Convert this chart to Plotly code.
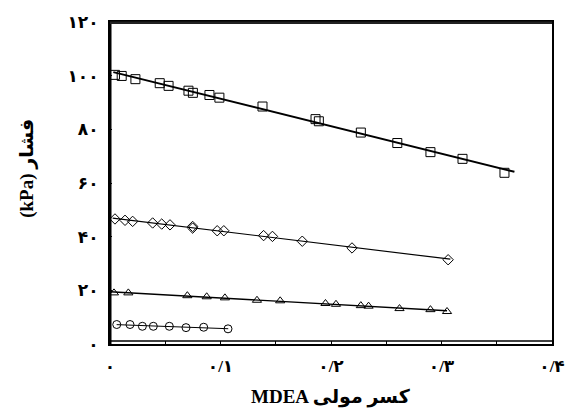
import numpy as np
import plotly.graph_objects as go

# Vapour pressure vs. MDEA mole fraction, four temperatures
sq_x = [0.0045, 0.0106, 0.023, 0.045, 0.053, 0.071, 0.075, 0.090, 0.099, 0.138,
        0.186, 0.189, 0.227, 0.260, 0.290, 0.319, 0.357]
sq_y = [100.3, 99.9, 98.7, 97.2, 96.2, 94.4, 93.6, 92.8, 91.8, 88.5,
        83.8, 83.0, 78.8, 74.9, 71.5, 69.0, 63.8]

dm_x = [0.0045, 0.0136, 0.0205, 0.0386, 0.0468, 0.0543, 0.0748, 0.0748, 0.097,
        0.103, 0.139, 0.147, 0.174, 0.219, 0.306]
dm_y = [46.6, 46.1, 45.7, 45.1, 44.7, 44.4, 43.8, 43.2, 42.2,
        42.2, 40.4, 40.1, 38.3, 35.8, 31.4]

tr_x = [0.0036, 0.0166, 0.070, 0.0875, 0.104, 0.133, 0.154, 0.195, 0.2045,
        0.227, 0.234, 0.262, 0.290, 0.305]
tr_y = [19.05, 19.05, 18.0, 17.6, 17.2, 16.3, 16.1, 15.1, 14.8,
        14.3, 14.1, 13.2, 12.8, 12.1]

ci_x = [0.0061, 0.0181, 0.0293, 0.0392, 0.0537, 0.0688, 0.0848, 0.1068]
ci_y = [7.26, 7.26, 6.6, 6.6, 6.6, 6.1, 6.25, 5.65]

# x-extent of each linear trend line
fit_span = {
    "sq": [0.003, 0.366],
    "dm": [0.0024, 0.308],
    "tr": [0.0, 0.305],
    "ci": [0.006, 0.107],
}

x_tickvals = [0, 0.05, 0.1, 0.15, 0.2, 0.25, 0.3, 0.35, 0.4]
x_ticktext = ["۰", "", "۰/۱", "", "۰/۲", "", "۰/۳", "", "۰/۴"]
y_tickvals = [0, 20, 40, 60, 80, 100, 120]
y_ticktext = ["۰", "۲۰", "۴۰", "۶۰", "۸۰", "۱۰۰", "۱۲۰"]

x_title = "MDEA کسر مولی"
y_title = "(kPa) فشار"

FONT = "Liberation Serif, DejaVu Sans, serif"


def bold(labels):
    return ["<b>" + t + "</b>" if t else "" for t in labels]


fig = go.Figure()

series = [
    ("sq", sq_x, sq_y, "square-open", 9, 2.0),
    ("dm", dm_x, dm_y, "diamond-open", 8, 1.2),
    ("tr", tr_x, tr_y, "triangle-up-open", 8, 1.4),
    ("ci", ci_x, ci_y, "circle-open", 8, 1.0),
]

for key, xs, ys, sym, msize, lw in series:
    slope, icpt = np.polyfit(xs, ys, 1)
    fx = np.array(fit_span[key])
    fig.add_trace(go.Scatter(
        x=fx, y=slope * fx + icpt, mode="lines",
        line=dict(color="black", width=lw), showlegend=False, hoverinfo="skip",
    ))
    fig.add_trace(go.Scatter(
        x=xs, y=ys, mode="markers",
        marker=dict(symbol=sym, size=msize, color="black", line=dict(width=1, color="black")),
        showlegend=False,
    ))

fig.update_xaxes(
    range=[0, 0.4], tickvals=x_tickvals, ticktext=bold(x_ticktext),
    ticks="inside", ticklen=3, tickwidth=1, tickcolor="black",
    showgrid=False, zeroline=False,
    showline=True, mirror=True, linecolor="black", linewidth=2,
    tickfont=dict(family=FONT, size=17, color="black"),
    ticklabelstandoff=6, automargin=False,
)
fig.update_yaxes(
    range=[0, 120], tickvals=y_tickvals, ticktext=bold(y_ticktext),
    ticks="inside", ticklen=2, tickwidth=1, tickcolor="black",
    showgrid=False, zeroline=False,
    showline=True, mirror=True, linecolor="black", linewidth=2,
    tickfont=dict(family=FONT, size=17, color="black"),
    ticklabelstandoff=6, automargin=False,
)

# heavier left edge, top edge, and the second line of the double bottom edge
fig.add_shape(type="line", xref="paper", yref="paper", x0=0, x1=0, y0=0, y1=1,
              line=dict(color="black", width=3))
fig.add_shape(type="line", xref="paper", yref="paper", x0=0, x1=1,
              y0=0.998, y1=0.998, line=dict(color="#222222", width=2.5))
fig.add_shape(type="line", xref="paper", yref="paper", x0=0, x1=1,
              y0=0.0093, y1=0.0093, line=dict(color="black", width=1.5))

fig.add_annotation(text="<b>" + x_title + "</b>", xref="paper", yref="paper",
                   x=0.501, y=-0.165, xanchor="center", yanchor="middle",
                   showarrow=False,
                   font=dict(family=FONT, size=19, color="black"))
fig.add_annotation(text="<b>" + y_title + "</b>", xref="paper", yref="paper",
                   x=-0.188, y=0.547, xanchor="center", yanchor="middle",
                   showarrow=False, textangle=-90,
                   font=dict(family=FONT, size=19, color="black"))

fig.update_layout(
    width=565, height=414,
    margin=dict(l=110, r=13, t=22, b=70),
    paper_bgcolor="white", plot_bgcolor="white",
)

fig.write_html("out.html")
